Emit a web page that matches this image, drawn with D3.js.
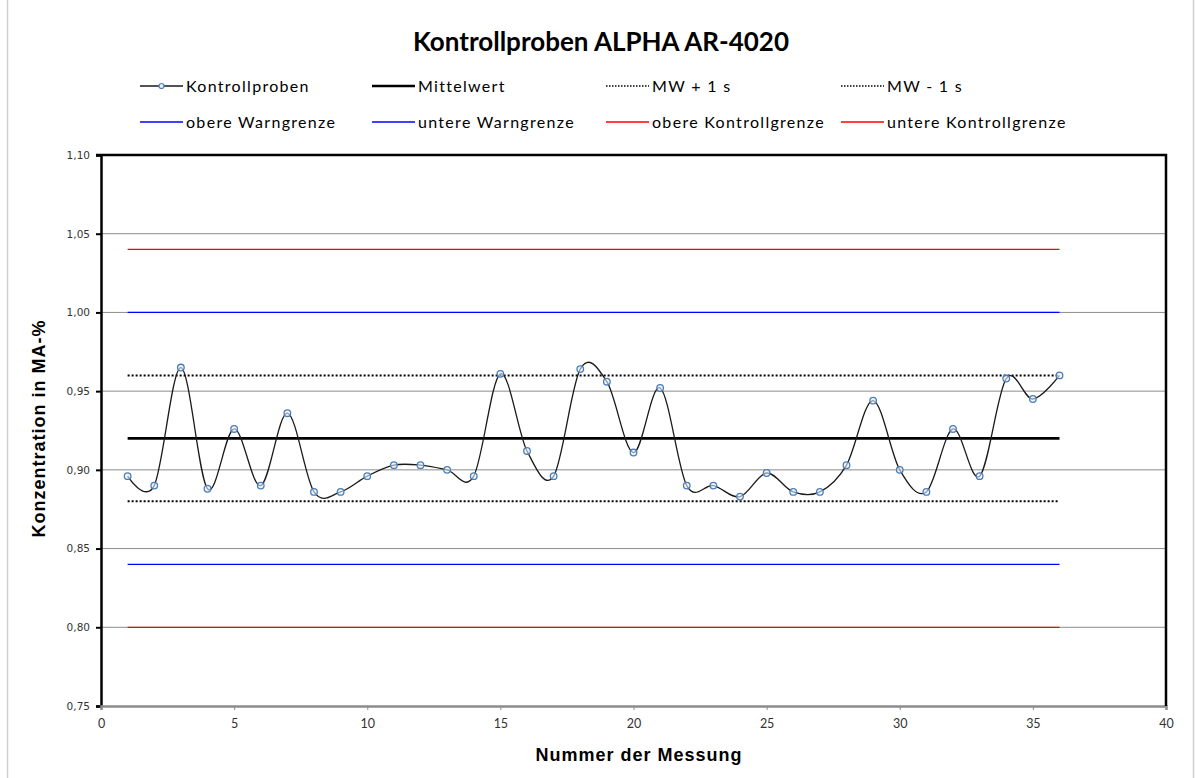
<!DOCTYPE html>
<html>
<head>
<meta charset="utf-8">
<script src="https://cdn.jsdelivr.net/npm/d3@7"></script>
<style>
  html, body { margin: 0; padding: 0; background: #fff; }
  svg { display: block; }
</style>
</head>
<body>
<svg id="chart" width="1195" height="778"></svg>
<script>
// Messnummern und Messwerte der Kontrollproben
const measurementNo = d3.range(1, 37);
const controlValues = [
  0.896, 0.890, 0.965, 0.888, 0.926, 0.890, 0.936, 0.886, 0.886, 0.896,
  0.903, 0.903, 0.900, 0.896, 0.961, 0.912, 0.896, 0.964, 0.956, 0.911,
  0.952, 0.890, 0.890, 0.883, 0.898, 0.886, 0.886, 0.903, 0.944, 0.900,
  0.886, 0.926, 0.896, 0.958, 0.945, 0.960
];

// Grenz- und Mittelwertlinien
const limitNames  = ["Mittelwert", "MW + 1 s", "MW - 1 s", "obere Warngrenze", "untere Warngrenze", "obere Kontrollgrenze", "untere Kontrollgrenze"];
const limitValues = [0.92, 0.96, 0.88, 1.00, 0.84, 1.04, 0.80];

// Achsenbeschriftungen
const yTicks = [0.75, 0.80, 0.85, 0.90, 0.95, 1.00, 1.05, 1.10];
const xTicks = [0, 5, 10, 15, 20, 25, 30, 35, 40];

const limitStyle = {
  "Mittelwert":            { stroke: "#000", width: 2.6, dash: null },
  "MW + 1 s":              { stroke: "#000", width: 2, dash: "2,2" },
  "MW - 1 s":              { stroke: "#000", width: 2, dash: "2,2" },
  "obere Warngrenze":      { stroke: "#0000ff", width: 1.3, dash: null },
  "untere Warngrenze":     { stroke: "#0000ff", width: 1.3, dash: null },
  "obere Kontrollgrenze":  { stroke: "#ff0000", width: 1.3, dash: null },
  "untere Kontrollgrenze": { stroke: "#ff0000", width: 1.3, dash: null }
};

const svg = d3.select("#chart");
const W = 1195, H = 778;
const plot = { left: 101, right: 1166, top: 155, bottom: 706 };

const x = d3.scaleLinear().domain([0, 40]).range([plot.left, plot.right]);
const y = d3.scaleLinear().domain([0.75, 1.10]).range([plot.bottom, plot.top]);
const fmt = v => d3.format(".2f")(v).replace(".", ",");

// äußerer Diagrammrahmen
svg.append("line").attr("x1", 7.5).attr("x2", 7.5).attr("y1", 0).attr("y2", H)
  .attr("stroke", "#d0d0d0").attr("stroke-width", 1.5);
svg.append("line").attr("x1", 1193.5).attr("x2", 1193.5).attr("y1", 0).attr("y2", H)
  .attr("stroke", "#d0d0d0").attr("stroke-width", 1.5);

// Titel
svg.append("text")
  .attr("x", 601).attr("y", 51)
  .attr("text-anchor", "middle")
  .attr("font-family", "Lato, 'Open Sans', sans-serif")
  .attr("font-weight", "bold")
  .attr("font-size", 26)
  .attr("fill", "#000")
  .text("Kontrollproben ALPHA AR-4020");

// Gitternetzlinien
svg.append("g")
  .selectAll("line")
  .data(yTicks.filter(v => v > 0.76 && v < 1.09))
  .join("line")
  .attr("x1", plot.left).attr("x2", plot.right)
  .attr("y1", d => y(d)).attr("y2", d => y(d))
  .attr("stroke", "#8c8c8c").attr("stroke-width", 1);

// Y-Achse
const yAxis = svg.append("g")
  .attr("transform", `translate(${plot.left},0)`)
  .call(d3.axisLeft(y).tickValues(yTicks).tickFormat(fmt).tickSize(5).tickPadding(6));
yAxis.select(".domain").attr("stroke", "#000").attr("stroke-width", 2.5);
yAxis.selectAll(".tick line").attr("stroke", "#000").attr("stroke-width", 2);
yAxis.selectAll(".tick text")
  .attr("font-family", "Verdana, 'DejaVu Sans', sans-serif")
  .attr("font-size", 10.5).attr("fill", "#333");

// X-Achse
const xAxis = svg.append("g")
  .attr("transform", `translate(0,${plot.bottom})`)
  .call(d3.axisBottom(x).tickValues(xTicks).tickFormat(d3.format("d")).tickSize(4).tickPadding(9));
xAxis.select(".domain").attr("stroke", "#8c8c8c").attr("stroke-width", 2.5);
xAxis.selectAll(".tick line").attr("stroke", "#8c8c8c").attr("stroke-width", 1);
xAxis.selectAll(".tick text")
  .attr("font-family", "Lato, 'Open Sans', sans-serif")
  .attr("font-size", 12.5).attr("fill", "#333");

// Rahmen oben und rechts
svg.append("path")
  .attr("d", `M${plot.left - 5},${plot.top}H${plot.right}V${plot.bottom}`)
  .attr("fill", "none").attr("stroke", "#000").attr("stroke-width", 2.5);

// Achsentitel
svg.append("text")
  .attr("transform", `translate(45,${(plot.top + plot.bottom) / 2 - 2}) rotate(-90)`)
  .attr("text-anchor", "middle")
  .attr("font-family", "Arial, 'Liberation Sans', sans-serif")
  .attr("font-weight", "bold")
  .attr("font-size", 18)
  .attr("letter-spacing", 1)
  .attr("fill", "#000")
  .text("Konzentration in MA-%");

svg.append("text")
  .attr("x", 639).attr("y", 761)
  .attr("text-anchor", "middle")
  .attr("font-family", "Arial, 'Liberation Sans', sans-serif")
  .attr("font-weight", "bold")
  .attr("font-size", 18)
  .attr("letter-spacing", 1)
  .attr("fill", "#000")
  .text("Nummer der Messung");

// Grenz- und Mittelwertlinien zwischen erster und letzter Messung
const xFirst = d3.min(measurementNo), xLast = d3.max(measurementNo);
svg.append("g")
  .selectAll("line")
  .data(limitNames.map((n, i) => ({ name: n, value: limitValues[i] })))
  .join("line")
  .attr("x1", x(xFirst)).attr("x2", x(xLast))
  .attr("y1", d => y(d.value)).attr("y2", d => y(d.value))
  .attr("stroke", d => limitStyle[d.name].stroke)
  .attr("stroke-width", d => limitStyle[d.name].width)
  .attr("stroke-dasharray", d => limitStyle[d.name].dash);

// Geglättete Messwertkurve
const points = measurementNo.map((n, i) => ({ n, v: controlValues[i] }));
const line = d3.line()
  .x(d => x(d.n)).y(d => y(d.v))
  .curve(d3.curveCardinal.tension(0));
svg.append("path")
  .datum(points)
  .attr("d", line)
  .attr("fill", "none")
  .attr("stroke", "#1a1a1a")
  .attr("stroke-width", 1.3);

// Markierungen
svg.append("g")
  .selectAll("circle")
  .data(points)
  .join("circle")
  .attr("cx", d => x(d.n)).attr("cy", d => y(d.v))
  .attr("r", 3.3)
  .attr("fill", "#e8eef7")
  .attr("fill-opacity", 0.6)
  .attr("stroke", "#4a7ebb")
  .attr("stroke-width", 1.3);

// Legende
const legendItems = [
  { label: "Kontrollproben", stroke: "#1a1a1a", width: 1.3, dash: null, marker: true },
  ...limitNames.map(n => ({ label: n, ...limitStyle[n], marker: false }))
];
const legendCols = [140, 372, 606, 841];
const legendRows = [86, 122];
const lg = svg.append("g");
legendItems.forEach((it, i) => {
  const cx = legendCols[i % 4], cy = legendRows[Math.floor(i / 4)];
  const g = lg.append("g").attr("transform", `translate(${cx},${cy})`);
  g.append("line")
    .attr("x1", 0).attr("x2", 43).attr("y1", 0).attr("y2", 0)
    .attr("stroke", it.stroke)
    .attr("stroke-width", it.dash ? 1.3 : it.width)
    .attr("stroke-dasharray", it.dash ? "1.5,1.5" : null);
  if (it.marker) {
    g.append("circle").attr("cx", 21.5).attr("cy", 0).attr("r", 2.5)
      .attr("fill", "#e8eef7").attr("stroke", "#4a7ebb").attr("stroke-width", 1.2);
  }
  g.append("text")
    .attr("x", 46).attr("y", 5.5)
    .attr("font-family", "Lato, 'Open Sans', sans-serif")
    .attr("font-size", 16)
    .attr("letter-spacing", 1.3)
    .attr("fill", "#000")
    .text(it.label);
});
</script>
</body>
</html>
